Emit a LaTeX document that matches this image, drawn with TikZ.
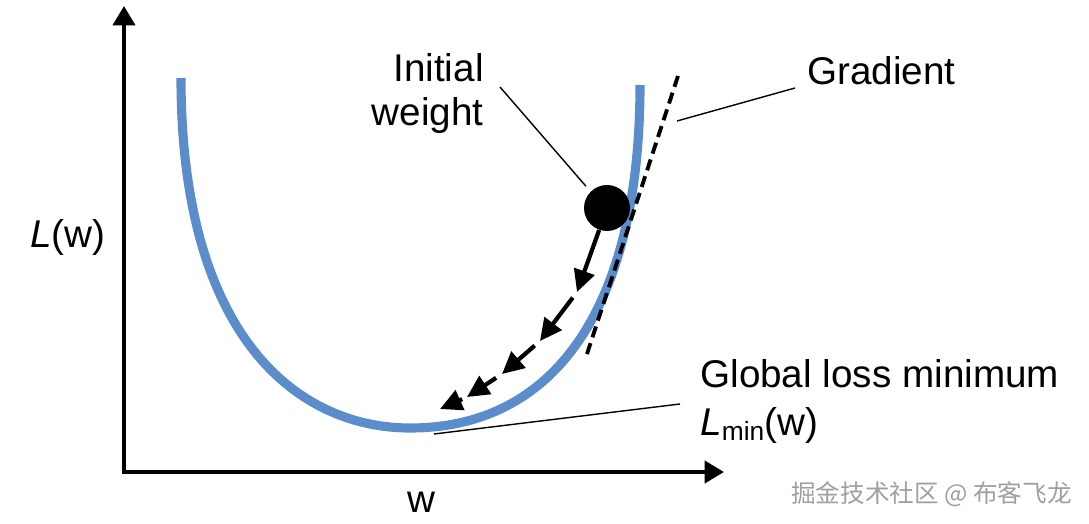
\documentclass[tikz,border=0pt]{standalone}
\usepackage{fontspec}
\setmainfont{Liberation Sans}
\newfontfamily\cjkfont{Noto Sans CJK SC}
\usepackage{tikz}
\usetikzlibrary{arrows.meta}
\definecolor{lossblue}{RGB}{91,141,203}

\tikzset{
  axis/.style={line width=2.3pt, line join=miter, {Triangle[length=11pt,width=12.5pt]}-{Triangle[length=11pt,width=12.5pt]}},
  stepline/.style={line width=2.4pt, -{Triangle[length=12.5pt,width=12pt]}},
  leader/.style={line width=0.8pt},
  label/.style={font=\fontsize{22}{24.5}\selectfont, inner sep=0pt}
}

\begin{document}
\begin{tikzpicture}[x=0.02cm,y=-0.02cm]
    \useasboundingbox (0,0) rectangle (1089,524);

    % axes
    \coordinate (ytop) at (124,6);
    \coordinate (origin) at (124,472);
    \coordinate (xend) at (724,472);
    \draw[axis] (ytop) -- (origin) -- (xend);

    % loss curve
    \draw[lossblue, line width=5.2pt] (181,78) .. controls (181,340) and (300,428) .. (410,428)
        .. controls (560,428) and (640,300) .. (640,85);

    % tangent
    \coordinate (tanA) at (678,76);
    \coordinate (tanB) at (586,357);
    \draw[line width=2.2pt, dash pattern=on 6.5pt off 3.5pt] (tanA) -- (tanB);

    % initial weight
    \node[circle, fill=black, inner sep=0pt, minimum size=0.92cm] (ball) at (607,208) {};

    % descent steps
    \coordinate (s1) at (577,292);
    \coordinate (s2) at (540,341);
    \coordinate (s3) at (502,374);
    \coordinate (s4) at (467,397);
    \coordinate (s5) at (440,409);
    \draw[stepline] (ball) -- (s1);
    \draw[stepline, shorten <=4pt] (s1) -- (s2);
    \draw[stepline, shorten <=4pt] (s2) -- (s3);
    \draw[stepline, shorten <=4pt] (s3) -- (s4);
    \draw[stepline, shorten <=3pt] (s4) -- (s5);

    % labels
    \node[label, anchor=base west] (lw) at (30,247) {\textit{L}(w)};
    \node[label, anchor=base] (wlbl) at (421,512) {w};
    \node[label, align=right, anchor=base east] (init) at (484,125) {Initial\\weight};
    \node[label, anchor=base west] (grad) at (807,84) {Gradient};
    \node[label, anchor=base west] (glob) at (700,387) {Global loss minimum};
    \node[label, anchor=base west] (lmin) at (700,435)
        {\textit{L}\raisebox{-3pt}{\fontsize{15}{15}\selectfont min}(w)};
    \node[anchor=base east, inner sep=0pt, text=gray!75, font=\cjkfont\fontsize{14}{16}\selectfont]
        (mark) at (1072,502) {掘金技术社区 @ 布客飞龙};

    % pointers
    \coordinate (initend) at (500,87);
    \coordinate (gradend) at (795,88);
    \coordinate (gradtip) at (677,121);
    \coordinate (minend) at (680,404);
    \coordinate (mintip) at (434,434);
    \draw[leader, shorten >=4pt] (initend) -- (ball.135);
    \draw[leader] (gradend) -- (gradtip);
    \draw[leader] (minend) -- (mintip);
\end{tikzpicture}
\end{document}
